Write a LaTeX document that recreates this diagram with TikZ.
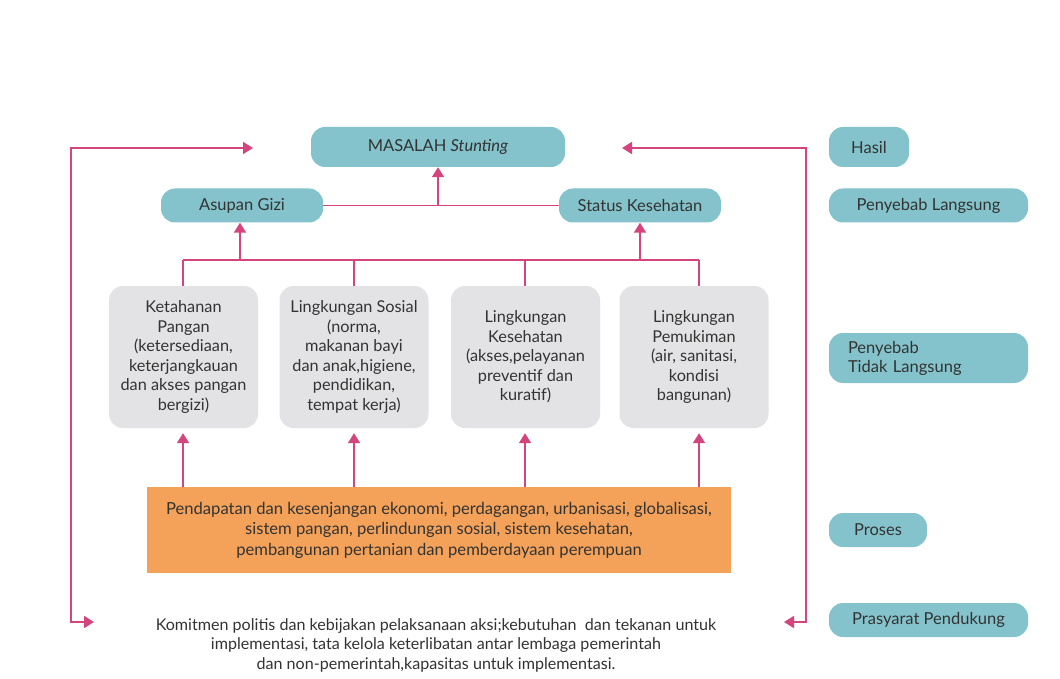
\documentclass[tikz,border=0pt]{standalone}
\usepackage{fontspec}
\setmainfont{Lato}
\usetikzlibrary{arrows.meta}
\definecolor{tealbox}{HTML}{84C3CB}
\definecolor{pinkln}{HTML}{D4457E}
\definecolor{orangebox}{HTML}{F4A25A}
\definecolor{graybox}{HTML}{E3E3E5}
\definecolor{txt}{HTML}{333333}
\tikzset{
  tealnode/.style={fill=tealbox, rounded corners=14pt, inner sep=0pt, text=txt, font=\fontsize{16.5}{19}\selectfont},
  graynode/.style={fill=graybox, rounded corners=14pt, inner sep=0pt, text=txt, align=center,
    minimum width=149pt, minimum height=142pt, font=\fontsize{16.3}{19.5}\selectfont},
  pline/.style={draw=pinkln, line width=1.7pt},
  parrow/.style={pline, -{Triangle[width=12pt,length=10pt]}},
}
\begin{document}
\begin{tikzpicture}[x=1pt,y=-1pt]
\useasboundingbox (0,0) rectangle (1060,679);
\fill[white] (0,0) rectangle (1060,679);

% top teal nodes
\node[tealnode, minimum width=254pt, minimum height=40pt] (masalah) at (438,147) {MASALAH \textit{Stunting}};
\node[tealnode, minimum width=162pt, minimum height=34pt] (asupan) at (242,205.5) {Asupan Gizi};
\node[tealnode, minimum width=162pt, minimum height=34pt] (status) at (640,205.5) {Status Kesehatan};

% legend nodes
\node[tealnode, minimum width=80pt, minimum height=40pt] (hasil) at (869,147) {Hasil};
\node[tealnode, minimum width=199pt, minimum height=34pt] (langsung) at (928.5,205.5) {Penyebab Langsung};
\node[tealnode, text width=161pt, align=left, inner xsep=19pt, minimum height=50pt] (tidak) at (928.5,358) {Penyebab\\Tidak Langsung};
\node[tealnode, minimum width=98pt, minimum height=34pt] (proses) at (878,530) {Proses};
\node[tealnode, minimum width=199pt, minimum height=34pt] (prasyarat) at (928.5,620) {Prasyarat Pendukung};

% gray boxes
\node[graynode] (k1) at (183.5,357) {Ketahanan\\Pangan\\(ketersediaan,\\keterjangkauan\\dan akses pangan\\bergizi)};
\node[graynode] (k2) at (354,357) {Lingkungan Sosial\\(norma,\\makanan bayi\\dan anak,higiene,\\pendidikan,\\tempat kerja)};
\node[graynode] (k3) at (525.5,357) {Lingkungan\\Kesehatan\\(akses,pelayanan\\preventif dan\\kuratif)};
\node[graynode] (k4) at (694,357) {Lingkungan\\Pemukiman\\(air, sanitasi,\\kondisi\\bangunan)};

% orange box
\node[fill=orangebox, inner sep=0pt, minimum width=584pt, minimum height=86pt, text=txt, align=center,
  font=\fontsize{16.6}{20.5}\selectfont] (proc) at (439,530)
  {Pendapatan dan kesenjangan ekonomi, perdagangan, urbanisasi, globalisasi,\\
   sistem pangan, perlindungan sosial, sistem kesehatan,\\
   pembangunan pertanian dan pemberdayaan perempuan};

% bottom text
\node[inner sep=0pt, text=txt, align=center, font=\fontsize{16.1}{19.5}\selectfont] (komit) at (436,645)
  {Komitmen politis dan kebijakan pelaksanaan aksi;kebutuhan\ \ dan tekanan untuk\\
   implementasi, tata kelola keterlibatan antar lembaga pemerintah\\
   dan non-pemerintah,kapasitas untuk implementasi.};

% immediate causes -> problem
\draw[pline] (asupan.east) -- (status.west);
\coordinate (j0) at (masalah.south |- asupan.east);
\draw[parrow] (j0) -- (masalah.south);

% bus
\coordinate (b1) at (183,260);
\coordinate (b2) at (354,260);
\coordinate (b3) at (525,260);
\coordinate (b4) at (699,260);
\draw[pline] (b1) -- (b4);
\draw[pline] (b1) -- (b1 |- k1.north);
\draw[pline] (b2) -- (b2 |- k2.north);
\draw[pline] (b3) -- (b3 |- k3.north);
\draw[pline] (b4) -- (b4 |- k4.north);
\coordinate (ba) at (240,260);
\coordinate (bs) at (640,260);
\draw[parrow] (ba) -- (ba |- asupan.south);
\draw[parrow] (bs) -- (bs |- status.south);

% process -> underlying
\draw[parrow, shorten >=5pt] (b1 |- proc.north) -- (b1 |- k1.south);
\draw[parrow, shorten >=5pt] (b2 |- proc.north) -- (b2 |- k2.south);
\draw[parrow, shorten >=5pt] (b3 |- proc.north) -- (b3 |- k3.south);
\draw[parrow, shorten >=5pt] (b4 |- proc.north) -- (b4 |- k4.south);

% loops
\coordinate (lt) at (71,148);
\coordinate (lb) at (71,622);
\coordinate (ltip) at (253,148);
\coordinate (lbtip) at (94,622);
\draw[parrow] (lb) -- (lt) -- (ltip);
\draw[parrow] (lt) -- (lb) -- (lbtip);
\coordinate (rt) at (806,148);
\coordinate (rb) at (806,622);
\coordinate (rtip) at (622,148);
\coordinate (rbtip) at (784,622);
\draw[parrow] (rb) -- (rt) -- (rtip);
\draw[parrow] (rt) -- (rb) -- (rbtip);
\end{tikzpicture}
\end{document}
